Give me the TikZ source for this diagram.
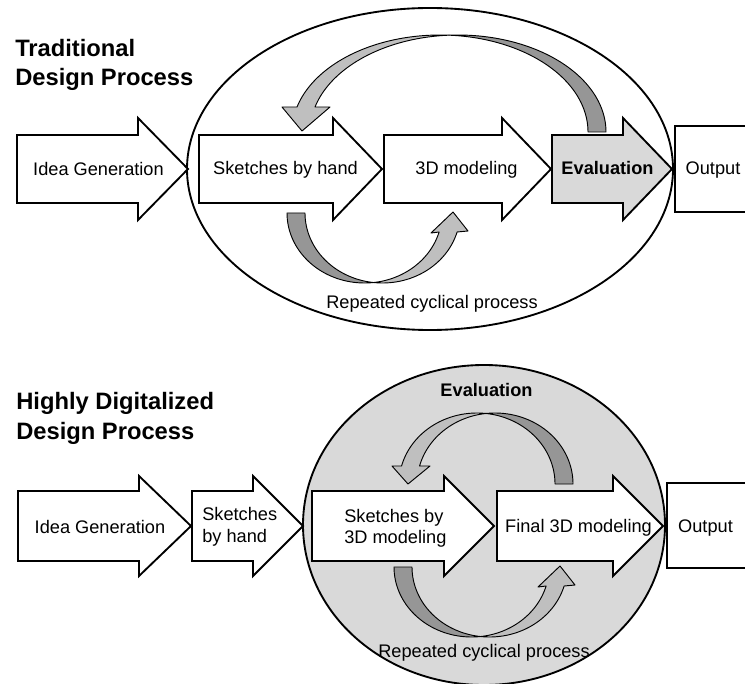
\documentclass[tikz,border=0pt]{standalone}
\usepackage{fontspec}
\setmainfont{Liberation Sans}
\definecolor{panel}{HTML}{D9D9D9}
\definecolor{ribbonlight}{HTML}{BFBFBF}
\definecolor{ribbondark}{HTML}{969696}
% block arrow: #1 fill, #2 left x, #3 head start x, #4 tip x, #5 mid y, #6 half shaft, #7 half head
\newcommand\blockarrow[7]{%
  \draw[boxline, fill=#1] (#2,{#5-#6}) -- (#3,{#5-#6}) -- (#3,{#5-#7}) -- (#4,#5)
    -- (#3,{#5+#7}) -- (#3,{#5+#6}) -- (#2,{#5+#6}) -- cycle;}
% U-shaped twisted ribbon arrow (lower loop)
\newcommand\lowerloop{%
  \filldraw[ribbon, fill=ribbondark]
    plot[domain=180:276.7, samples=40] ({364.5+77.5*cos(\x)},{213-70*sin(\x)})
    -- plot[domain=263.3:180, samples=40] ({382.5+77.5*cos(\x)},{213-70*sin(\x)}) -- cycle;
  \filldraw[ribbon, fill=ribbonlight]
    plot[domain=263.3:344.25, samples=40] ({382.5+77.5*cos(\x)},{213-70*sin(\x)})
    -- (468,231) -- (453,212) -- (431,233)
    -- plot[domain=344.25:276.7, samples=40] ({364.5+77.5*cos(\x)},{213-70*sin(\x)}) -- cycle;}
\begin{document}
\begin{tikzpicture}[x=0.75pt, y=-0.75pt,
  boxline/.style={draw=black, line width=1.4pt, line join=miter},
  ribbon/.style={draw=black, line width=0.7pt, line join=round},
  lbl/.style={font=\fontsize{13.65}{16}\selectfont, inner sep=0pt, anchor=base},
  lblleft/.style={lbl, anchor=base west},
  lblbold/.style={lbl, font=\fontsize{13.65}{16}\selectfont\bfseries},
  ttl/.style={font=\fontsize{17.8}{21}\selectfont\bfseries, inner sep=0pt, anchor=base west}]
\useasboundingbox (0,0) rectangle (745,684);

% ---------------- Traditional design process ----------------
\node[ttl] (t1a) at (15,57) {Traditional};
\node[ttl] (t1b) at (15,86) {Design Process};

\draw[line width=1.4pt] (430,169) ellipse [x radius=243, y radius=161];

\blockarrow{white}{17}{138}{188}{169}{34}{51}
\blockarrow{white}{199}{333}{382}{169}{34}{51}
\blockarrow{white}{384}{502}{551}{169}{34}{51}
\blockarrow{panel}{552}{623}{672}{169}{34}{51}
\draw[boxline, fill=white] (675,126) rectangle (760,212);

% feedback ribbon from evaluation back to sketches
\filldraw[ribbon, fill=ribbondark]
  plot[domain=0:93.5, samples=50] ({458+148*cos(\x)},{132-97*sin(\x)})
  -- plot[domain=86.5:0, samples=50] ({440+148*cos(\x)},{132-97*sin(\x)}) -- cycle;
\filldraw[ribbon, fill=ribbonlight]
  plot[domain=86.5:165.06, samples=50] ({440+148*cos(\x)},{132-97*sin(\x)})
  -- (282,107) -- (302,131) -- (330,107)
  -- plot[domain=165.06:93.5, samples=50] ({458+148*cos(\x)},{132-97*sin(\x)}) -- cycle;

\lowerloop

\node[lbl] (idea1) at (98.5,176) {Idea Generation};
\node[lbl] (sketch1) at (285.5,175) {Sketches by hand};
\node[lbl] (model1) at (466.5,175) {3D modeling};
\node[lblbold] (eval1) at (607.5,175) {Evaluation};
\node[lbl] (out1) at (713,175) {Output};
\node[lbl] (rep1) at (432,308) {Repeated cyclical process};

% ---------------- Highly digitalized design process ----------------
\node[ttl] (t2a) at (16,409) {Highly Digitalized};
\node[ttl] (t2b) at (16,439) {Design Process};

\draw[line width=1.4pt, fill=panel] (484,525) ellipse [x radius=181, y radius=160];

\blockarrow{white}{18}{139}{191}{526}{35}{50}
\blockarrow{white}{192}{253}{303}{526}{35}{50}
\blockarrow{white}{312}{444}{494}{526}{35}{50}
\blockarrow{white}{497}{613}{663}{526}{35}{50}
\draw[boxline, fill=white] (667,483) rectangle (760,568);

% evaluation loop ribbon
\filldraw[ribbon, fill=ribbondark]
  plot[domain=0:96.63, samples=50] ({495+78*cos(\x)},{484-71*sin(\x)})
  -- plot[domain=83.37:0, samples=50] ({477+78*cos(\x)},{484-71*sin(\x)}) -- cycle;
\filldraw[ribbon, fill=ribbonlight]
  plot[domain=83.37:165.3, samples=50] ({477+78*cos(\x)},{484-71*sin(\x)})
  -- (392,466) -- (408,484) -- (430,466)
  -- plot[domain=165.3:96.63, samples=50] ({495+78*cos(\x)},{484-71*sin(\x)}) -- cycle;

\begin{scope}[shift={(107,354)}]
  \lowerloop
\end{scope}

\node[lbl] (idea2) at (100,533) {Idea Generation};
\node[lblleft] (sketch2a) at (202,520) {Sketches};
\node[lblleft] (sketch2b) at (202,542) {by hand};
\node[lblleft] (digi2a) at (344,522) {Sketches by};
\node[lblleft] (digi2b) at (344,543) {3D modeling};
\node[lbl] (final2) at (578.5,532) {Final 3D modeling};
\node[lbl] (out2) at (705.5,532) {Output};
\node[lblbold] (eval2) at (486.5,396) {Evaluation};
\node[lbl] (rep2) at (484,657) {Repeated cyclical process};
\end{tikzpicture}
\end{document}
